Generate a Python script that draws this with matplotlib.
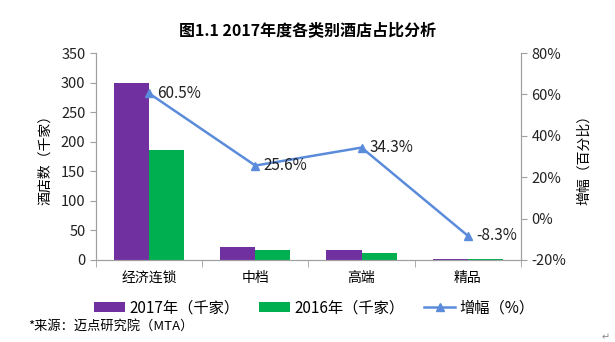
import matplotlib
matplotlib.use("Agg")
import matplotlib.pyplot as plt
from matplotlib.ticker import FuncFormatter
import numpy as np

plt.rcParams["font.family"] = ["Noto Sans CJK SC", "DejaVu Sans"]

categories = ["经济连锁", "中档", "高端", "精品"]
count_2017 = [300, 22.5, 17, 2]
count_2016 = [186, 17, 12, 1.5]
growth = [60.5, 25.6, 34.3, -8.3]

purple = "#7030A0"
green = "#00B050"
blue = "#5B8CDB"
axis_gray = "#A0A0A0"

fig = plt.figure(figsize=(6.15, 3.42), dpi=100)
ax = fig.add_axes([0.156, 0.240, 0.691, 0.605])
ax2 = ax.twinx()

x = np.arange(len(categories))
w = 0.33
b1 = ax.bar(x - w / 2, count_2017, width=w, color=purple, label="2017年（千家）")
b2 = ax.bar(x + w / 2, count_2016, width=w, color=green, label="2016年（千家）")

ln, = ax2.plot(x, growth, color=blue, linewidth=1.8, marker="^", markersize=6,
               label="增幅（%）")
for xi, g in zip(x, growth):
    ax2.annotate(f"{g:.1f}%", (xi, g), xytext=(6, 0), textcoords="offset points",
                 ha="left", va="center", fontsize=11, color="#222222")

ax.set_xlim(-0.5, len(categories) - 0.5)
ax.set_ylim(0, 350)
ax.set_yticks(range(0, 351, 50))
ax2.set_ylim(-20, 80)
ax2.set_yticks(range(-20, 81, 20))
ax2.yaxis.set_major_formatter(FuncFormatter(lambda v, p: f"{v:.0f}%"))

ax.set_xticks(x)
ax.set_xticklabels(categories, fontsize=10)
ax.set_xticks(np.arange(-0.5, len(categories), 1), minor=True)
ax.tick_params(axis="x", which="major", length=0, pad=8)
ax.tick_params(axis="x", which="minor", length=5, color=axis_gray, direction="out")
ax.tick_params(axis="y", length=4, color=axis_gray, labelsize=10.5, labelcolor="#222222")
ax2.tick_params(axis="y", length=4, color=axis_gray, labelsize=10.5, labelcolor="#222222")

for a in (ax, ax2):
    a.spines["top"].set_visible(False)
    for s in ("left", "right", "bottom"):
        a.spines[s].set_color(axis_gray)

ax.set_ylabel("酒店数（千家）", fontsize=10, labelpad=6)
ax2.set_ylabel("增幅（百分比）", fontsize=10, labelpad=8)

fig.text(0.5, 0.912, "图1.1 2017年度各类别酒店占比分析", ha="center", va="center",
         fontsize=11.5, fontweight="bold")

fig.legend([b1, b2, ln], ["2017年（千家）", "2016年（千家）", "增幅（%）"],
           loc="center", bbox_to_anchor=(0.511, 0.1), ncol=3, frameon=False,
           fontsize=11, handlelength=2.0, columnspacing=1.3, handletextpad=0.3)

fig.text(0.045, 0.047, "*来源：迈点研究院（MTA）", ha="left", va="center", fontsize=9.5)
fig.text(0.985, 0.015, "↵", ha="center", va="center", fontsize=7, color="#888888")

fig.savefig("out.png", dpi=100)
